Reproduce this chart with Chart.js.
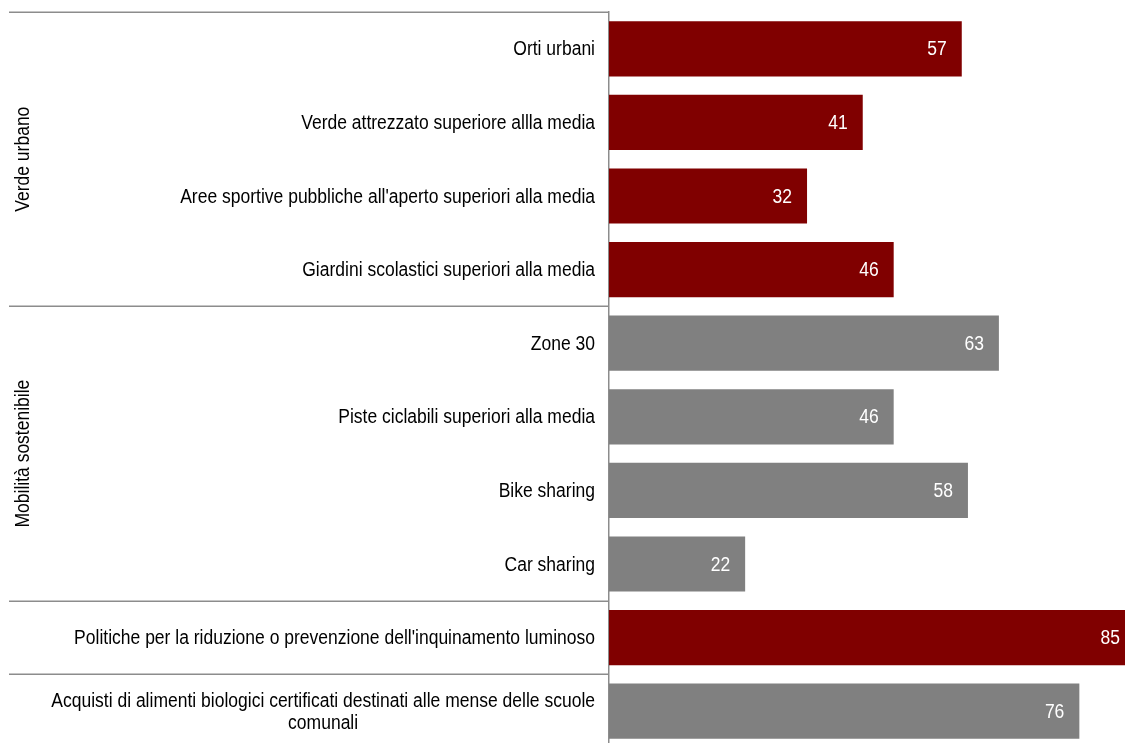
<!DOCTYPE html>
<html>
<head>
<meta charset="utf-8">
<script src="https://cdn.jsdelivr.net/npm/chart.js@4/dist/chart.umd.min.js"></script>
<style>
html,body{margin:0;padding:0;background:#fff;overflow:hidden;}
#wrap{width:1125px;height:743px;overflow:hidden;position:relative;}
canvas{display:block;}
</style>
</head>
<body>
<div id="wrap"><canvas id="c" width="1200" height="760"></canvas></div>
<script>
const categories = [
  'Orti urbani',
  'Verde attrezzato superiore allla media',
  "Aree sportive pubbliche all'aperto superiori alla media",
  'Giardini scolastici superiori alla media',
  'Zone 30',
  'Piste ciclabili superiori alla media',
  'Bike sharing',
  'Car sharing',
  "Politiche per la riduzione o prevenzione dell'inquinamento luminoso",
  ['Acquisti di alimenti biologici certificati destinati alle mense delle scuole', 'comunali']
];
const values = [57, 41, 32, 46, 63, 46, 58, 22, 85, 76];
const barColors = ['#800000','#800000','#800000','#800000','#808080','#808080','#808080','#808080','#800000','#808080'];
const groupLabels = ['Verde urbano', 'Mobilità sostenibile'];
const groupStarts = [0, 4];
const groupEnds = [3, 7];
const separatorBefore = [0, 4, 8, 9];

const FONT = '20px "Liberation Sans", Arial, sans-serif';
const SQUEEZE = 0.875;

function squeezedText(ctx, text, x, y, align) {
  ctx.save();
  ctx.translate(x, y);
  ctx.scale(SQUEEZE, 1);
  ctx.textAlign = align;
  ctx.fillText(text, 0, 0);
  ctx.restore();
}

const overlay = {
  id: 'overlay',
  afterDatasetsDraw(chart) {
    const ctx = chart.ctx;
    const y = chart.scales.y, x = chart.scales.x;
    const area = chart.chartArea;
    const slot = y.getPixelForValue(1) - y.getPixelForValue(0);
    ctx.save();
    ctx.font = FONT;
    ctx.textBaseline = 'middle';
    // value labels
    ctx.fillStyle = '#ffffff';
    values.forEach((v, i) => {
      squeezedText(ctx, String(v), x.getPixelForValue(v) - 15, y.getPixelForValue(i) + 1, 'right');
    });
    // category labels
    ctx.fillStyle = '#000000';
    categories.forEach((c, i) => {
      const lines = Array.isArray(c) ? c : [c];
      const cy = y.getPixelForValue(i);
      const lh = 22;
      const maxW = Math.max(...lines.map(l => ctx.measureText(l).width)) * SQUEEZE;
      const right = area.left - 14;
      const multi = lines.length > 1;
      const tx = multi ? right - maxW / 2 : right;
      lines.forEach((l, k) => {
        squeezedText(ctx, l, tx, cy + (k - (lines.length - 1) / 2) * lh + 1, multi ? 'center' : 'right');
      });
    });
    // separators
    ctx.strokeStyle = '#8c8c8c';
    ctx.lineWidth = 1.5;
    separatorBefore.forEach(i => {
      const py = Math.round(y.getPixelForValue(i) - slot / 2) + 0.25;
      ctx.beginPath();
      ctx.moveTo(9, py);
      ctx.lineTo(area.left, py);
      ctx.stroke();
    });
    // group labels
    ctx.fillStyle = '#000000';
    groupLabels.forEach((g, k) => {
      const top = y.getPixelForValue(groupStarts[k]) - slot / 2;
      const bot = y.getPixelForValue(groupEnds[k]) + slot / 2;
      ctx.save();
      ctx.translate(23, (top + bot) / 2);
      ctx.rotate(-Math.PI / 2);
      squeezedText(ctx, g, 0, 0, 'center');
      ctx.restore();
    });
    ctx.restore();
  }
};

new Chart(document.getElementById('c'), {
  type: 'bar',
  data: {
    labels: categories,
    datasets: [{
      data: values,
      backgroundColor: barColors,
      borderWidth: 0,
      barPercentage: 0.75,
      categoryPercentage: 1
    }]
  },
  options: {
    indexAxis: 'y',
    responsive: false,
    animation: false,
    devicePixelRatio: 1,
    layout: { padding: { top: 12, bottom: 12, left: 0, right: 34 } },
    plugins: { legend: { display: false }, tooltip: { enabled: false } },
    scales: {
      x: { display: false, min: 0, max: 90 },
      y: {
        afterFit(s) { s.width = 609; },
        ticks: { display: false },
        grid: { display: false },
        border: { display: true, color: '#8c8c8c', width: 1.5 }
      }
    }
  },
  plugins: [overlay]
});
</script>
</body>
</html>
